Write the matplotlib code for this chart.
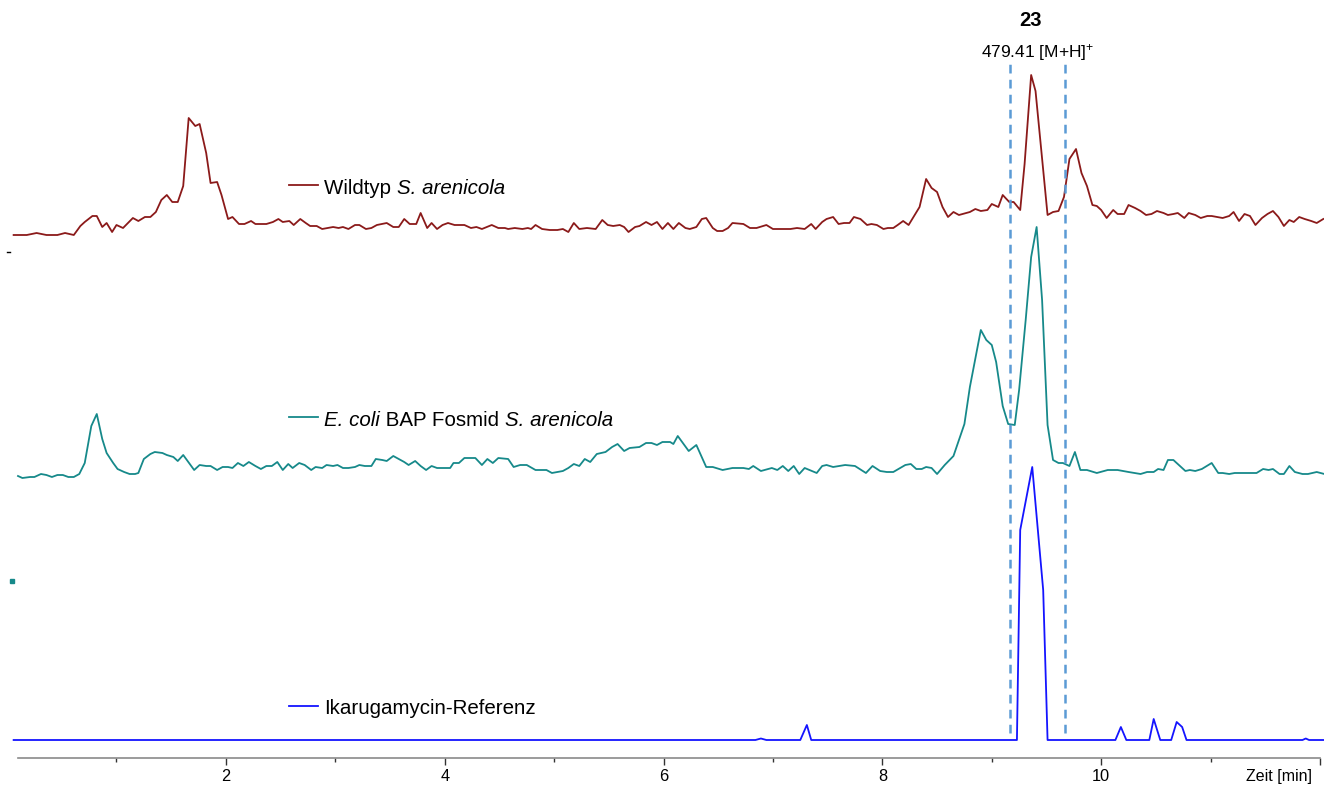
#!/usr/bin/env python3
"""Stacked LC-MS extracted ion chromatograms (m/z 479.41) -> out.png"""

import matplotlib.pyplot as plt

plt.rcParams["font.family"] = ["Liberation Sans", "DejaVu Sans"]
plt.rcParams["mathtext.fontset"] = "custom"
plt.rcParams["mathtext.rm"] = "Liberation Sans"
plt.rcParams["mathtext.it"] = "Liberation Sans:italic"
plt.rcParams["mathtext.bf"] = "Liberation Sans:bold"

# ---- data: retention time [min] and signal (arbitrary units, above own baseline)
wt_time = [
    0.06, 0.18, 0.27, 0.36, 0.46, 0.53, 0.61, 0.67, 0.71, 0.78, 0.82, 0.87, 0.91, 0.96,
    1.00, 1.06, 1.15, 1.20, 1.26, 1.31, 1.36, 1.41, 1.46, 1.51, 1.56, 1.61, 1.66, 1.72,
    1.76, 1.82, 1.86, 1.92, 1.96, 2.02, 2.06, 2.12, 2.17, 2.23, 2.27, 2.37, 2.43, 2.48,
    2.52, 2.58, 2.62, 2.68, 2.73, 2.77, 2.83, 2.88, 2.93, 2.98, 3.03, 3.07, 3.12, 3.18,
    3.22, 3.28, 3.33, 3.38, 3.47, 3.53, 3.58, 3.63, 3.68, 3.74, 3.78, 3.84, 3.88, 3.93,
    3.98, 4.03, 4.09, 4.18, 4.24, 4.29, 4.34, 4.43, 4.49, 4.55, 4.58, 4.64, 4.71, 4.76,
    4.79, 4.83, 4.89, 4.96, 5.03, 5.08, 5.13, 5.18, 5.23, 5.30, 5.38, 5.44, 5.49, 5.54,
    5.60, 5.64, 5.68, 5.74, 5.78, 5.84, 5.89, 5.94, 5.99, 6.04, 6.09, 6.14, 6.20, 6.24,
    6.30, 6.35, 6.39, 6.45, 6.49, 6.54, 6.59, 6.63, 6.73, 6.79, 6.85, 6.94, 7.00, 7.16,
    7.22, 7.29, 7.35, 7.39, 7.45, 7.49, 7.55, 7.60, 7.65, 7.70, 7.74, 7.80, 7.86, 7.90,
    7.95, 8.01, 8.05, 8.10, 8.14, 8.19, 8.24, 8.34, 8.40, 8.45, 8.50, 8.55, 8.60, 8.65,
    8.70, 8.80, 8.85, 8.90, 8.96, 9.00, 9.06, 9.10, 9.16, 9.20, 9.26, 9.30, 9.36, 9.40,
    9.51, 9.56, 9.61, 9.66, 9.71, 9.77, 9.82, 9.87, 9.92, 9.96, 10.00, 10.05, 10.11, 10.15,
    10.21, 10.25, 10.31, 10.36, 10.41, 10.46, 10.51, 10.57, 10.61, 10.66, 10.70, 10.76,
    10.80, 10.86, 10.91, 10.97, 11.01, 11.11, 11.17, 11.21, 11.26, 11.31, 11.36, 11.41,
    11.47, 11.52, 11.57, 11.62, 11.67, 11.72, 11.76, 11.81, 11.86, 11.92, 11.97, 12.03,
]
wt_signal = [
    0, 0, 2, 0, 0, 2, 0, 9, 13, 19, 19, 8, 12, 3,
    10, 7, 17, 14, 18, 18, 23, 35, 40, 33, 33, 49, 117, 109,
    111, 82, 52, 53, 40, 16, 18, 11, 11, 14, 11, 11, 13, 16,
    13, 14, 10, 16, 12, 9, 9, 6, 7, 8, 7, 8, 6, 10,
    10, 6, 7, 10, 12, 8, 8, 16, 11, 11, 22, 7, 12, 6,
    10, 12, 10, 10, 7, 8, 6, 10, 7, 7, 6, 7, 6, 7,
    6, 10, 6, 5, 5, 6, 3, 12, 6, 7, 6, 15, 10, 9,
    10, 8, 3, 8, 9, 13, 10, 13, 6, 12, 6, 12, 7, 6,
    8, 16, 17, 7, 4, 4, 7, 12, 11, 7, 7, 10, 6, 6,
    7, 6, 11, 6, 13, 16, 18, 11, 12, 12, 18, 16, 10, 11,
    10, 6, 7, 7, 10, 14, 10, 28, 56, 47, 43, 28, 18, 23,
    20, 23, 26, 24, 25, 31, 28, 40, 33, 33, 25, 71, 160, 144,
    20, 23, 24, 38, 76, 86, 62, 49, 30, 29, 25, 17, 25, 21,
    21, 30, 27, 24, 20, 21, 24, 22, 20, 21, 22, 17,
    22, 20, 17, 19, 19, 17, 19, 23, 14, 21, 19, 10,
    17, 21, 24, 18, 9, 15, 13, 18, 16, 14, 12, 16,
]

ecoli_time = [
    0.10, 0.14, 0.21, 0.25, 0.31, 0.36, 0.41, 0.46, 0.51, 0.56, 0.61, 0.66, 0.71, 0.77,
    0.82, 0.87, 0.91, 0.97, 1.01, 1.07, 1.12, 1.17, 1.20, 1.25, 1.31, 1.35, 1.42, 1.46,
    1.52, 1.56, 1.61, 1.65, 1.71, 1.76, 1.82, 1.86, 1.92, 1.97, 2.02, 2.06, 2.11, 2.16,
    2.21, 2.27, 2.32, 2.37, 2.42, 2.47, 2.52, 2.57, 2.61, 2.67, 2.72, 2.78, 2.82, 2.88,
    2.92, 2.98, 3.02, 3.07, 3.12, 3.18, 3.22, 3.27, 3.33, 3.37, 3.43, 3.47, 3.53, 3.58,
    3.63, 3.67, 3.73, 3.78, 3.83, 3.88, 3.93, 3.98, 4.05, 4.08, 4.13, 4.18, 4.28, 4.34,
    4.39, 4.44, 4.49, 4.58, 4.63, 4.69, 4.75, 4.83, 4.93, 4.98, 5.08, 5.13, 5.18, 5.23,
    5.28, 5.33, 5.39, 5.47, 5.53, 5.58, 5.64, 5.69, 5.78, 5.84, 5.89, 5.94, 5.99, 6.06,
    6.09, 6.13, 6.19, 6.23, 6.30, 6.39, 6.45, 6.54, 6.63, 6.73, 6.78, 6.82, 6.89, 6.99,
    7.04, 7.09, 7.14, 7.19, 7.24, 7.29, 7.40, 7.45, 7.49, 7.55, 7.66, 7.75, 7.85, 7.91,
    7.98, 8.04, 8.10, 8.21, 8.26, 8.31, 8.36, 8.40, 8.45, 8.50, 8.57, 8.65, 8.75, 8.80,
    8.90, 8.95, 9.00, 9.04, 9.10, 9.15, 9.21, 9.25, 9.31, 9.36, 9.41, 9.46, 9.51, 9.56,
    9.61, 9.65, 9.71, 9.76, 9.81, 9.87, 9.96, 10.06, 10.15, 10.25, 10.36, 10.42, 10.48,
    10.52, 10.57, 10.61, 10.66, 10.77, 10.81, 10.86, 10.92, 11.01, 11.07, 11.11, 11.17,
    11.22, 11.42, 11.48, 11.53, 11.57, 11.63, 11.67, 11.72, 11.77, 11.84, 11.89, 11.97,
    12.04,
]
ecoli_signal = [
    2, 0, 1, 1, 4, 3, 1, 3, 3, 1, 1, 4, 15, 52,
    64, 39, 25, 15, 9, 6, 4, 4, 5, 19, 24, 26, 25, 23,
    21, 17, 23, 17, 8, 13, 12, 12, 8, 11, 11, 10, 15, 12,
    16, 12, 9, 12, 12, 16, 8, 14, 10, 15, 13, 8, 11, 10,
    13, 12, 13, 10, 10, 11, 13, 12, 12, 19, 18, 17, 22, 19,
    16, 13, 17, 12, 8, 12, 10, 10, 10, 15, 15, 20, 20, 13,
    19, 15, 20, 19, 11, 13, 13, 8, 8, 5, 7, 10, 14, 12,
    19, 16, 24, 26, 31, 34, 27, 30, 31, 35, 35, 33, 36, 36,
    34, 42, 33, 27, 33, 11, 11, 8, 10, 10, 9, 12, 7, 10,
    8, 12, 7, 12, 4, 10, 5, 12, 13, 11, 13, 12, 5, 12,
    7, 6, 6, 13, 14, 9, 9, 11, 10, 4, 13, 22, 54, 91,
    148, 138, 133, 116, 72, 54, 53, 88, 158, 221, 251, 178, 53, 18,
    15, 15, 12, 26, 8, 8, 5, 8, 8, 6, 4, 6, 6,
    9, 8, 18, 18, 7, 8, 7, 9, 15, 5, 5, 4,
    5, 5, 9, 8, 9, 4, 4, 12, 6, 4, 4, 6,
    4,
]

ref_time = [
    0.06, 6.84, 6.89, 6.94, 7.25, 7.31, 7.35, 9.23, 9.26, 9.37, 9.47, 9.51,
    10.13, 10.18, 10.23, 10.44, 10.48, 10.54, 10.64, 10.69, 10.74, 10.78,
    11.84, 11.87, 11.90, 12.05,
]
ref_signal = [
    0, 0, 1.5, 0, 0, 15, 0, 0, 210, 273, 150, 0,
    0, 13, 0, 0, 21, 0, 0, 18, 13, 0,
    0, 1.5, 0, 0,
]

# label pieces: (text, font style)
trace_labels = [
    [("Wildtyp ", "normal"), ("S. arenicola", "italic")],
    [("E. coli", "italic"), (" BAP Fosmid ", "normal"), ("S. arenicola", "italic")],
    [("Ikarugamycin-Referenz", "normal")],
]
tick_values = [2, 4, 6, 8, 10]
peak_window = [9.17, 9.67]
compound_no = "23"
compound_ion = r"479.41 [M+H]$^{+}$"

# ---- layout / style
colors = ["#8b1a1a", "#16898a", "#1414ff"]
offsets = [523, 280, 18]          # baseline of each trace
legend_y = [573, 341, 52]


def rich_label(ax, x, y, parts, **kw):
    """Write text pieces of mixed style one after the other."""
    txt = ax.text(x, y, parts[0][0], style=parts[0][1], va="center", ha="left", **kw)
    for s, st in parts[1:]:
        txt = ax.annotate(s, xy=(1, 0), xycoords=txt, va="bottom", ha="left",
                          style=st, **kw)
    return txt


def main():
    fig = plt.figure(figsize=(13.24, 7.87), dpi=100)
    ax = fig.add_axes([18 / 1324, 29 / 787, 1302 / 1324, 758 / 787])
    ax.set_xlim(0.1, 12.0)
    ax.set_ylim(0, 758)

    series = [(wt_time, wt_signal), (ecoli_time, ecoli_signal), (ref_time, ref_signal)]
    for (t, s), off, col, lab, ly in zip(series, offsets, colors, trace_labels, legend_y):
        ax.plot(t, [v + off for v in s], color=col, lw=1.3, clip_on=False)
        # inline legend: short line + text
        ax.plot([2.58, 2.84], [ly, ly], color=col, lw=1.3)
        rich_label(ax, 2.9, ly - 3, lab, fontsize=14.8)

    # small level marks at the left edge
    ax.plot([0.0, 0.03], [506, 506], color="black", lw=1, clip_on=False)
    ax.plot([0.045], [177], marker="s", ms=2.2, color=colors[1], clip_on=False)

    # integration window of compound 23
    ax.vlines(peak_window, 25, 695, colors="#5b9bd5", linestyles=(0, (3.5, 2.5)), lw=1.8)
    mid = sum(peak_window) / 2
    ax.text(mid - 0.07, 737, compound_no, fontsize=14.5, fontweight="bold",
            ha="center", va="center")
    ax.text(mid, 705, compound_ion, fontsize=12.5, ha="center", va="center")

    # x axis
    for side in ("left", "right", "top"):
        ax.spines[side].set_visible(False)
    ax.spines["bottom"].set_color("#8a8a8a")
    ax.spines["bottom"].set_linewidth(1.2)
    ax.set_yticks([])
    ax.set_xticks(tick_values + [12])
    ax.set_xticklabels([str(v) for v in tick_values] + [""])
    ax.set_xticks([1, 3, 5, 7, 9, 11], minor=True)
    ax.tick_params(axis="x", which="major", length=5, width=1, color="#333333",
                   labelsize=11.8, pad=3)
    ax.tick_params(axis="x", which="minor", length=3, width=1, color="#333333")
    ax.text(11.93, -0.025, "Zeit [min]", transform=ax.get_xaxis_transform(),
            fontsize=11.5, ha="right", va="center")

    fig.savefig("out.png", dpi=100)
    plt.close(fig)


if __name__ == "__main__":
    main()
